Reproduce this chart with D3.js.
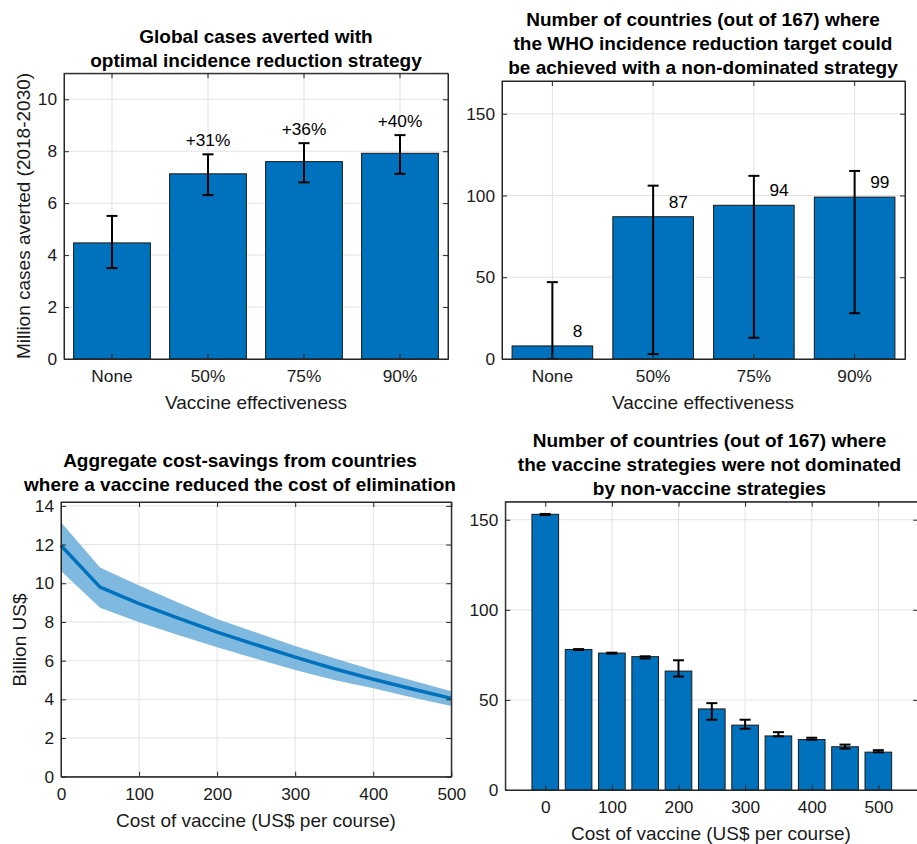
<!DOCTYPE html>
<html>
<head>
<meta charset="utf-8">
<script src="https://cdn.jsdelivr.net/npm/d3@7"></script>
<style>
  html, body { margin: 0; padding: 0; background: #fff; }
  svg { display: block; font-family: "Liberation Sans", Arial, Helvetica, sans-serif; }
</style>
</head>
<body>
<svg id="chart" width="917" height="844"></svg>
<script>
// ---------------- DATA ----------------
const effectivenessCats = ["None", "50%", "75%", "90%"];
const casesAverted      = [4.47, 7.13, 7.60, 7.92];
const casesAvertedLow   = [3.50, 6.31, 6.80, 7.13];
const casesAvertedHigh  = [5.51, 7.88, 8.31, 8.62];
const casesLabels       = ["", "+31%", "+36%", "+40%"];
const casesYTicks       = [0, 2, 4, 6, 8, 10];

const countriesTarget     = [8, 87, 94, 99];
const countriesTargetLow  = [0, 3, 13, 28];
const countriesTargetHigh = [47, 106, 112, 115];
const countriesTargetYTicks = [0, 50, 100, 150];

const vaccineCost   = [0, 50, 100, 150, 200, 250, 300, 350, 400, 450, 500];
const savingsMean   = [11.95, 9.80, 8.95, 8.20, 7.47, 6.82, 6.18, 5.58, 5.04, 4.53, 4.05];
const savingsUpper  = [13.15, 10.82, 9.88, 9.01, 8.15, 7.45, 6.76, 6.12, 5.52, 4.97, 4.42];
const savingsLower  = [10.63, 8.73, 7.98, 7.32, 6.69, 6.10, 5.52, 5.00, 4.57, 4.10, 3.66];
const savingsYTicks = [0, 2, 4, 6, 8, 10, 12, 14];
const costXTicks    = [0, 100, 200, 300, 400, 500];

const notDominated     = [153, 78, 76, 74, 66, 45, 36, 30, 28, 24, 21];
const notDominatedLow  = [152.6, 77.7, 75.7, 73.0, 63.0, 39.0, 34.0, 29.8, 27.9, 23.0, 20.9];
const notDominatedHigh = [153.2, 78.2, 76.2, 74.2, 72.0, 48.2, 39.0, 32.1, 29.0, 25.2, 22.1];
const notDominatedYTicks = [0, 50, 100, 150];

// ---------------- STYLE ----------------
const BAR = "#0072BD", BAND = "#80B9DF", AXIS = "#262626", GRID = "#e3e3e3";
const TICK_FS = 17.3, LABEL_FS = 19;
const CAP = 5.5;

const svg = d3.select("#chart");

function title(lines, cx, firstY) {
  const t = svg.append("g");
  lines.forEach((s, i) => {
    t.append("text").attr("x", cx).attr("y", firstY + i * 24).attr("dy", "0.35em")
      .attr("text-anchor", "middle").attr("font-weight", "bold").attr("font-size", LABEL_FS)
      .attr("fill", "#000").text(s);
  });
}

function grid(g, x, y, xt, yt, x0, x1, y0, y1, band) {
  const gg = g.append("g");
  yt.forEach(v => gg.append("line").attr("x1", x0).attr("x2", x1)
    .attr("y1", y(v)).attr("y2", y(v)).attr("stroke", GRID).attr("stroke-width", 1));
  xt.forEach(v => {
    const px = band ? x(v) + x.bandwidth() / 2 : x(v);
    gg.append("line").attr("x1", px).attr("x2", px).attr("y1", y0).attr("y2", y1)
      .attr("stroke", GRID).attr("stroke-width", 1);
  });
}

function frameAxes(g, x, y, xt, yt, x0, x1, y0, y1, band) {
  const styleAxis = sel => {
    sel.selectAll("path.domain").attr("stroke", AXIS).attr("stroke-width", 1);
    sel.selectAll(".tick line").attr("stroke", AXIS).attr("stroke-width", 1);
    sel.selectAll("text").attr("font-size", TICK_FS).attr("fill", "#1a1a1a")
       .attr("font-family", "Liberation Sans, Arial, sans-serif");
  };
  const bottom = d3.axisBottom(x).tickSizeInner(-5).tickSizeOuter(0).tickPadding(11);
  const top = d3.axisTop(x).tickSizeInner(-5).tickSizeOuter(0).tickFormat("");
  if (!band) { bottom.tickValues(xt); top.tickValues(xt); }
  const left = d3.axisLeft(y).tickValues(yt).tickSizeInner(-5).tickSizeOuter(0).tickPadding(7);
  const right = d3.axisRight(y).tickValues(yt).tickSizeInner(-5).tickSizeOuter(0).tickFormat("");
  g.append("g").attr("transform", `translate(0,${y1})`).call(bottom).call(styleAxis);
  g.append("g").attr("transform", `translate(0,${y0})`).call(top).call(styleAxis);
  g.append("g").attr("transform", `translate(${x0},0)`).call(left).call(styleAxis);
  g.append("g").attr("transform", `translate(${x1},0)`).call(right).call(styleAxis);
  g.append("rect").attr("x", x0).attr("y", y0).attr("width", x1 - x0).attr("height", y1 - y0)
    .attr("fill", "none").attr("stroke", AXIS).attr("stroke-width", 1);
}

function errorBars(g, cxArr, lo, hi, y) {
  cxArr.forEach((cx, i) => {
    g.append("line").attr("x1", cx).attr("x2", cx).attr("y1", y(lo[i])).attr("y2", y(hi[i]))
      .attr("stroke", "#000").attr("stroke-width", 2);
    [lo[i], hi[i]].forEach(v => g.append("line").attr("x1", cx - CAP).attr("x2", cx + CAP)
      .attr("y1", y(v)).attr("y2", y(v)).attr("stroke", "#000").attr("stroke-width", 2));
  });
}

function xLabel(text, cx, cy) {
  svg.append("text").attr("x", cx).attr("y", cy).attr("dy", "0.35em").attr("text-anchor", "middle")
    .attr("font-size", LABEL_FS).attr("fill", "#1a1a1a").text(text);
}
function yLabel(text, cx, cy) {
  svg.append("text").attr("transform", `translate(${cx},${cy}) rotate(-90)`).attr("dy", "0.35em")
    .attr("text-anchor", "middle").attr("font-size", LABEL_FS).attr("fill", "#1a1a1a").text(text);
}

// ---------------- PANEL 1 ----------------
(function () {
  const x0 = 64, x1 = 448, y0 = 73.3, y1 = 359;
  const x = d3.scaleBand().domain(effectivenessCats).range([x0, x1]).paddingInner(0.2).paddingOuter(0.1);
  const y = d3.scaleLinear().domain([0, 11]).range([y1, y0]);
  const g = svg.append("g");
  grid(g, x, y, effectivenessCats, casesYTicks, x0, x1, y0, y1, true);
  g.selectAll("rect.bar").data(casesAverted).join("rect").attr("class", "bar")
    .attr("x", (d, i) => x(effectivenessCats[i])).attr("width", x.bandwidth())
    .attr("y", d => y(d)).attr("height", d => y(0) - y(d))
    .attr("fill", BAR).attr("stroke", "#1a1a1a").attr("stroke-width", 1);
  const cx = effectivenessCats.map(c => x(c) + x.bandwidth() / 2);
  errorBars(g, cx, casesAvertedLow, casesAvertedHigh, y);
  casesLabels.forEach((s, i) => {
    if (!s) return;
    g.append("text").attr("x", cx[i]).attr("y", y(casesAvertedHigh[i]) - 14).attr("dy", "0.35em")
      .attr("text-anchor", "middle").attr("font-size", TICK_FS).attr("fill", "#000").text(s);
  });
  frameAxes(g, x, y, effectivenessCats, casesYTicks, x0, x1, y0, y1, true);
  title(["Global cases averted with", "optimal incidence reduction strategy"], 256, 36);
  xLabel("Vaccine effectiveness", 256, 402);
  yLabel("Million cases averted (2018-2030)", 23, 216);
})();

// ---------------- PANEL 2 ----------------
(function () {
  const x0 = 502, x1 = 905, y0 = 81, y1 = 359;
  const x = d3.scaleBand().domain(effectivenessCats).range([x0, x1]).paddingInner(0.2).paddingOuter(0.1);
  const y = d3.scaleLinear().domain([0, 170]).range([y1, y0]);
  const g = svg.append("g");
  grid(g, x, y, effectivenessCats, countriesTargetYTicks, x0, x1, y0, y1, true);
  g.selectAll("rect.bar").data(countriesTarget).join("rect").attr("class", "bar")
    .attr("x", (d, i) => x(effectivenessCats[i])).attr("width", x.bandwidth())
    .attr("y", d => y(d)).attr("height", d => y(0) - y(d))
    .attr("fill", BAR).attr("stroke", "#1a1a1a").attr("stroke-width", 1);
  const cx = effectivenessCats.map(c => x(c) + x.bandwidth() / 2);
  errorBars(g, cx, countriesTargetLow, countriesTargetHigh, y);
  countriesTarget.forEach((v, i) => {
    g.append("text").attr("x", cx[i] + x.step() * 0.25).attr("y", y(v) - 15).attr("dy", "0.35em")
      .attr("text-anchor", "middle").attr("font-size", TICK_FS).attr("fill", "#000").text(v);
  });
  frameAxes(g, x, y, effectivenessCats, countriesTargetYTicks, x0, x1, y0, y1, true);
  title(["Number of countries (out of 167) where",
         "the WHO incidence reduction target could",
         "be achieved with a non-dominated strategy"], 703, 19);
  xLabel("Vaccine effectiveness", 703, 402);
})();

// ---------------- PANEL 3 ----------------
(function () {
  const x0 = 61, x1 = 451.3, y0 = 502, y1 = 776.7;
  const x = d3.scaleLinear().domain([0, 500]).range([x0, x1]);
  const y = d3.scaleLinear().domain([0, 14.2]).range([y1, y0]);
  const g = svg.append("g");
  grid(g, x, y, costXTicks, savingsYTicks, x0, x1, y0, y1, false);
  const idx = d3.range(vaccineCost.length);
  const area = d3.area().x(i => x(vaccineCost[i])).y0(i => y(savingsLower[i])).y1(i => y(savingsUpper[i]));
  g.append("path").attr("d", area(idx)).attr("fill", BAND).attr("stroke", "none");
  const line = d3.line().x(i => x(vaccineCost[i])).y(i => y(savingsMean[i]));
  g.append("path").attr("d", line(idx)).attr("fill", "none").attr("stroke", BAR)
    .attr("stroke-width", 3.5).attr("stroke-linejoin", "round");
  frameAxes(g, x, y, costXTicks, savingsYTicks, x0, x1, y0, y1, false);
  title(["Aggregate cost-savings from countries",
         "where a vaccine reduced the cost of elimination"], 240, 460.7);
  xLabel("Cost of vaccine (US$ per course)", 256, 820);
  yLabel("Billion US$", 19, 640);
})();

// ---------------- PANEL 4 ----------------
(function () {
  const x0 = 505.3, x1 = 918.3, y0 = 501.7, y1 = 790;
  const x = d3.scaleLinear().domain([-60, 560]).range([x0, x1]);
  const y = d3.scaleLinear().domain([0, 160]).range([y1, y0]);
  const g = svg.append("g");
  grid(g, x, y, costXTicks, notDominatedYTicks, x0, x1, y0, y1, false);
  const bw = x(40) - x(0);
  g.selectAll("rect.bar").data(notDominated).join("rect").attr("class", "bar")
    .attr("x", (d, i) => x(vaccineCost[i]) - bw / 2).attr("width", bw)
    .attr("y", d => y(d)).attr("height", d => y(0) - y(d))
    .attr("fill", BAR).attr("stroke", "#1a1a1a").attr("stroke-width", 1);
  errorBars(g, vaccineCost.map(c => x(c)), notDominatedLow, notDominatedHigh, y);
  frameAxes(g, x, y, costXTicks, notDominatedYTicks, x0, x1, y0, y1, false);
  title(["Number of countries (out of 167) where",
         "the vaccine strategies were not dominated",
         "by non-vaccine strategies"], 709.5, 440.7);
  xLabel("Cost of vaccine (US$ per course)", 711, 833.3);
})();
</script>
</body>
</html>
